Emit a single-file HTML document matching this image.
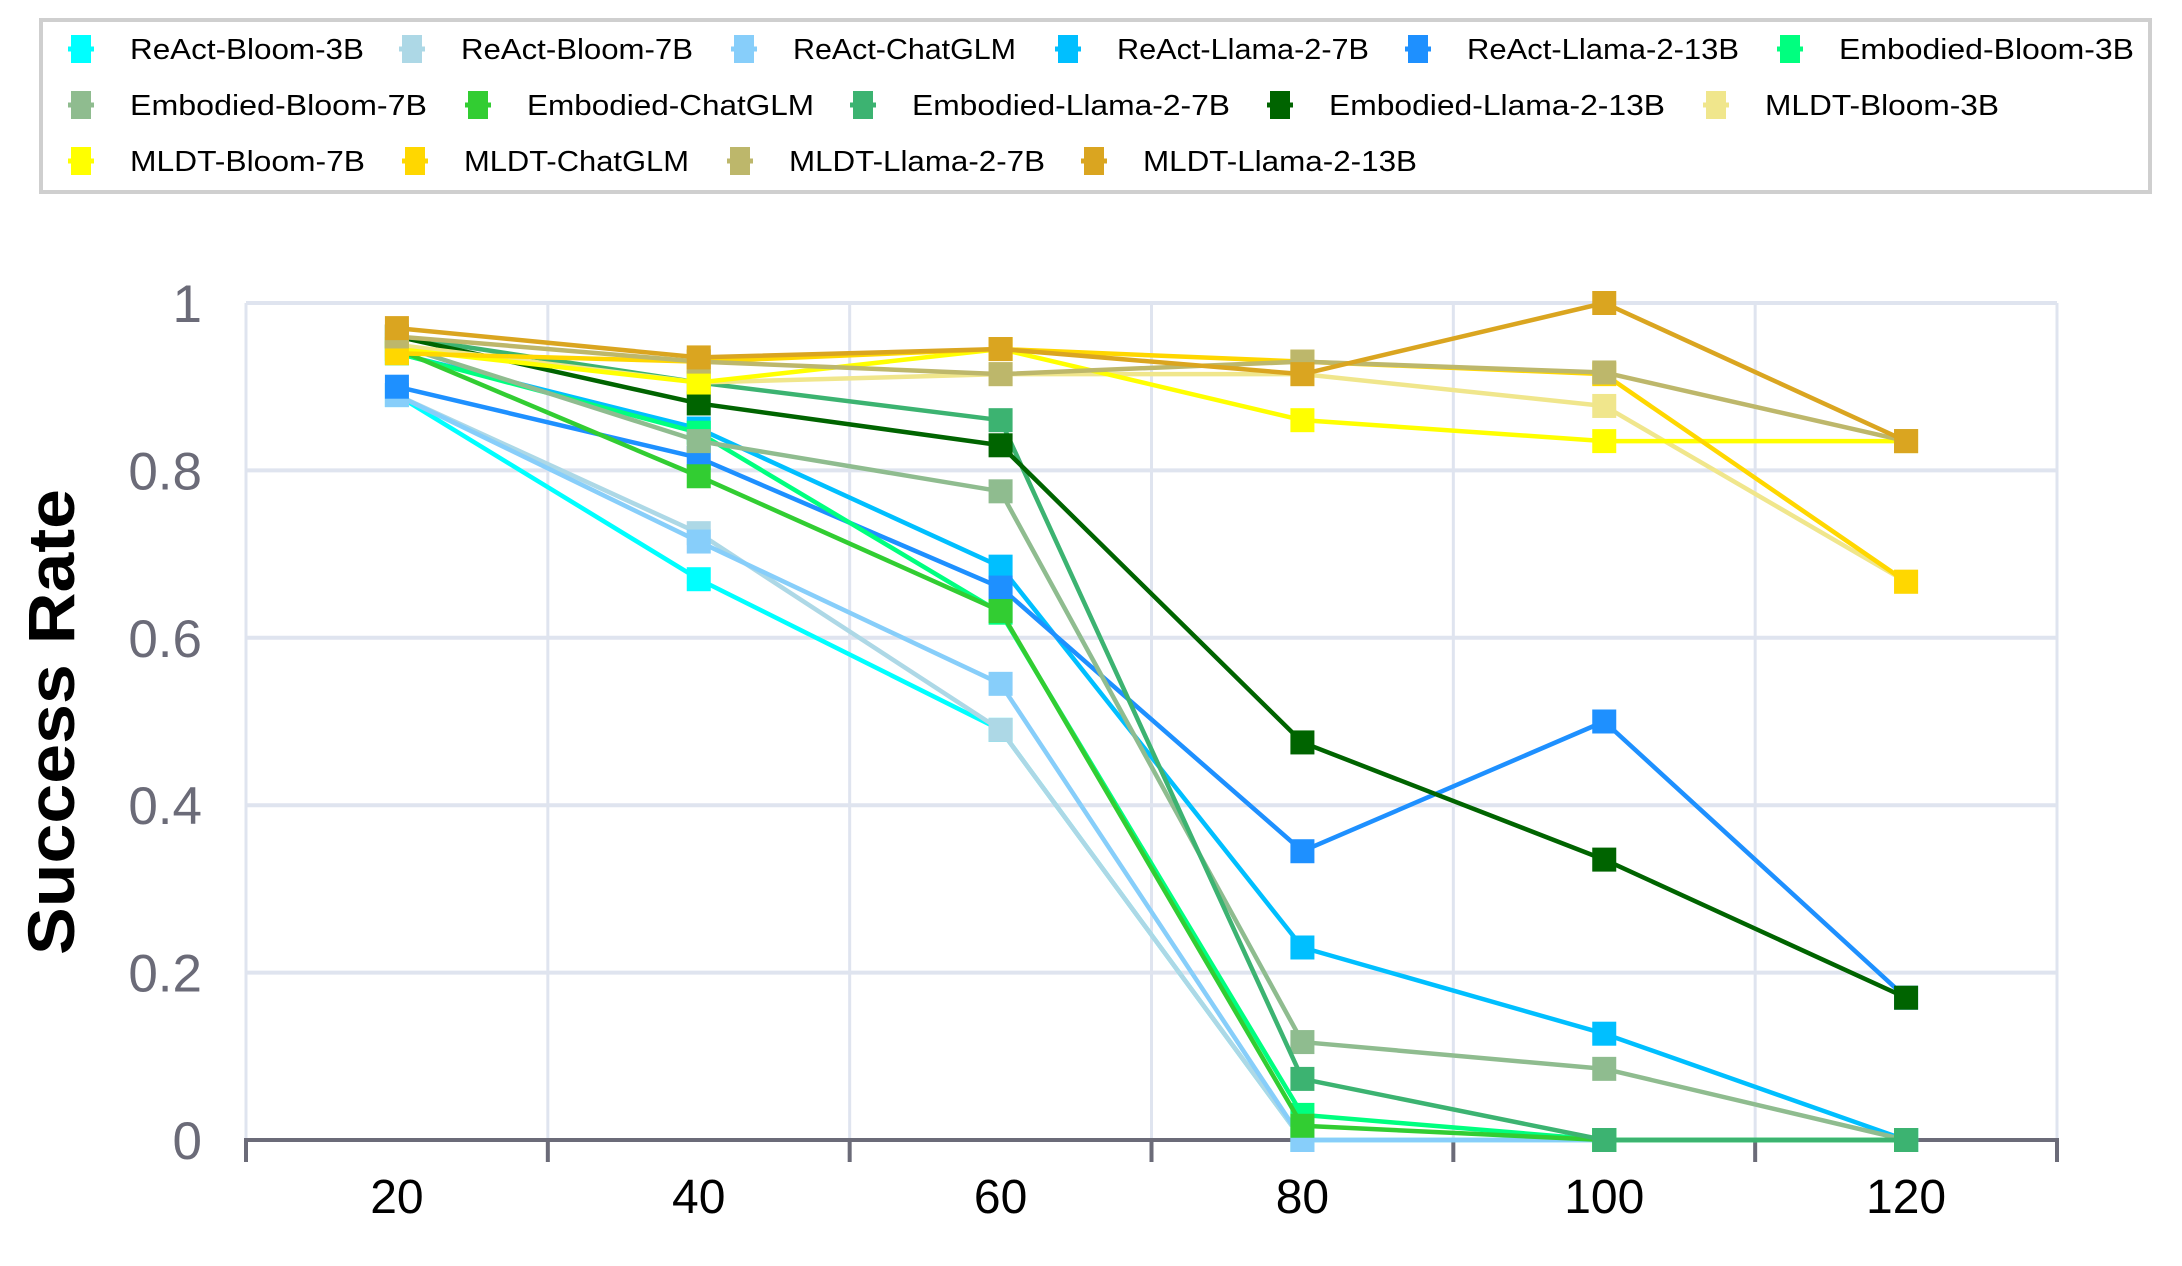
<!DOCTYPE html>
<html><head><meta charset="utf-8"><style>
html,body{margin:0;padding:0;background:#fff;}
svg{display:block;font-family:"Liberation Sans",sans-serif;}
</style></head><body>
<svg id="chart" width="2182" height="1266" viewBox="0 0 2182 1266" xmlns="http://www.w3.org/2000/svg">
<rect x="0" y="0" width="2182" height="1266" fill="#fff"/>
<rect x="41" y="20" width="2109" height="172" fill="#fff" stroke="#cfcfcf" stroke-width="4"/>
<g id="grid"></g><g id="axes"></g><g id="series"></g><g id="legend"></g>
<text transform="translate(74,722) rotate(-90)" text-anchor="middle" font-size="66" font-weight="bold" fill="#000" textLength="466" lengthAdjust="spacingAndGlyphs">Success Rate</text>
</svg>
<script>
const xValues = [20, 40, 60, 80, 100, 120];
const yTicks = [0, 0.2, 0.4, 0.6, 0.8, 1];
const yTickLabels = ["0", "0.2", "0.4", "0.6", "0.8", "1"];
const xTickLabels = ["20", "40", "60", "80", "100", "120"];
const seriesNames = ["ReAct-Bloom-3B","ReAct-Bloom-7B","ReAct-ChatGLM","ReAct-Llama-2-7B","ReAct-Llama-2-13B","Embodied-Bloom-3B","Embodied-Bloom-7B","Embodied-ChatGLM","Embodied-Llama-2-7B","Embodied-Llama-2-13B","MLDT-Bloom-3B","MLDT-Bloom-7B","MLDT-ChatGLM","MLDT-Llama-2-7B","MLDT-Llama-2-13B"];
const seriesColors = ["#00ffff","#add8e6","#87cefa","#00bfff","#1e90ff","#00ff7f","#8fbc8f","#32cd32","#3cb371","#006400","#f0e68c","#ffff00","#ffd700","#bdb76b","#daa520"];
const reactBloom3B = [0.89, 0.67, 0.49, 0, 0, 0];
const reactBloom7B = [0.89, 0.725, 0.49, 0, 0, 0];
const reactChatGLM = [0.89, 0.715, 0.545, 0, 0, 0];
const reactLlama7B = [0.94, 0.85, 0.685, 0.23, 0.127, 0];
const reactLlama13B = [0.90, 0.815, 0.66, 0.345, 0.50, 0.17];
const embBloom3B = [0.94, 0.845, 0.63, 0.03, 0, 0];
const embBloom7B = [0.95, 0.835, 0.775, 0.117, 0.085, 0];
const embChatGLM = [0.945, 0.793, 0.632, 0.017, 0, 0];
const embLlama7B = [0.96, 0.905, 0.86, 0.073, 0, 0];
const embLlama13B = [0.96, 0.88, 0.83, 0.475, 0.335, 0.17];
const mldtBloom3B = [0.95, 0.905, 0.915, 0.915, 0.877, 0.667];
const mldtBloom7B = [0.945, 0.905, 0.945, 0.86, 0.835, 0.835];
const mldtChatGLM = [0.94, 0.93, 0.945, 0.93, 0.915, 0.667];
const mldtLlama7B = [0.96, 0.93, 0.915, 0.93, 0.917, 0.835];
const mldtLlama13B = [0.97, 0.935, 0.945, 0.915, 1.0, 0.835];
const seriesValues = [reactBloom3B,reactBloom7B,reactChatGLM,reactLlama7B,reactLlama13B,embBloom3B,embBloom7B,embChatGLM,embLlama7B,embLlama13B,mldtBloom3B,mldtBloom7B,mldtChatGLM,mldtLlama7B,mldtLlama13B];

const NS = "http://www.w3.org/2000/svg";
const L = 246, R = 2057, T = 303, B = 1140;
const xMin = 10, xMax = 130;
function xs(v){ return L + (v - xMin) / (xMax - xMin) * (R - L); }
function ys(v){ return B - v * (B - T); }
function mk(tag, attrs, parent){ const e = document.createElementNS(NS, tag); for (const k in attrs) e.setAttribute(k, attrs[k]); parent.appendChild(e); return e; }

const grid = document.getElementById('grid');
const axes = document.getElementById('axes');
for (let v = 10; v <= 130; v += 20) {
  const g = mk('line', {x1: xs(v), x2: xs(v), y1: T, y2: B, stroke: '#dfe4ef', 'stroke-width': 3}, grid);
  
  
  const t = mk('line', {x1: xs(v), x2: xs(v), y1: B, y2: B + 22, stroke: '#6b6b78', 'stroke-width': 4}, axes);
  
  
}
yTicks.forEach((v, i) => {
  if (v > 0) {
    const g = mk('line', {x1: L, x2: R, y1: ys(v), y2: ys(v), stroke: '#dfe4ef', 'stroke-width': 4}, grid);
    
    
  }
  const t = mk('text', {x: 202, y: ys(v) + 19, 'text-anchor': 'end', 'font-size': 53, fill: '#6b6b78'}, axes);
  t.textContent = yTickLabels[i];
  
  
});
const ax = mk('line', {x1: L - 2, x2: R + 2, y1: B, y2: B, stroke: '#6b6b78', 'stroke-width': 4}, axes);


xValues.forEach((v, i) => {
  const t = mk('text', {x: xs(v), y: 1213, 'text-anchor': 'middle', 'font-size': 48, fill: '#000'}, axes);
  t.textContent = xTickLabels[i];
  
  
});

const sg = document.getElementById('series');
seriesValues.forEach((vals, si) => {
  const g = mk('g', {}, sg);
  
  
  const pts = vals.map((v, i) => xs(xValues[i]) + ',' + ys(v)).join(' ');
  const pl = mk('polyline', {points: pts, fill: 'none', stroke: seriesColors[si], 'stroke-width': 4.5, 'stroke-linejoin': 'round'}, g);
  
  
  vals.forEach((v, i) => {
    const r = mk('rect', {x: xs(xValues[i]) - 12, y: ys(v) - 12, width: 24, height: 24, fill: seriesColors[si]}, g);
    
    
  });
});

const legendPos = [
 [81,49,234],[412,49,232],[744,49,223],[1068,49,252],[1418,49,272],[1790,49,295],
 [81,105,297],[478,105,287],[863,105,318],[1280,105,336],[1716,105,234],
 [81,161,235],[415,161,225],[740,161,256],[1094,161,274]
];
const lg = document.getElementById('legend');
seriesNames.forEach((n, i) => {
  const [x, y, w] = legendPos[i];
  const g = mk('g', {}, lg);
  
  
  mk('line', {x1: x - 13, x2: x + 13, y1: y, y2: y, stroke: seriesColors[i], 'stroke-width': 5}, g);
  mk('rect', {x: x - 10, y: y - 14, width: 20, height: 28, fill: seriesColors[i]}, g);
  const t = mk('text', {x: x + 49, y: y + 10, 'font-size': 29, fill: '#000', textLength: w, lengthAdjust: 'spacingAndGlyphs'}, g);
  t.textContent = n;
});
</script>
</body></html>
